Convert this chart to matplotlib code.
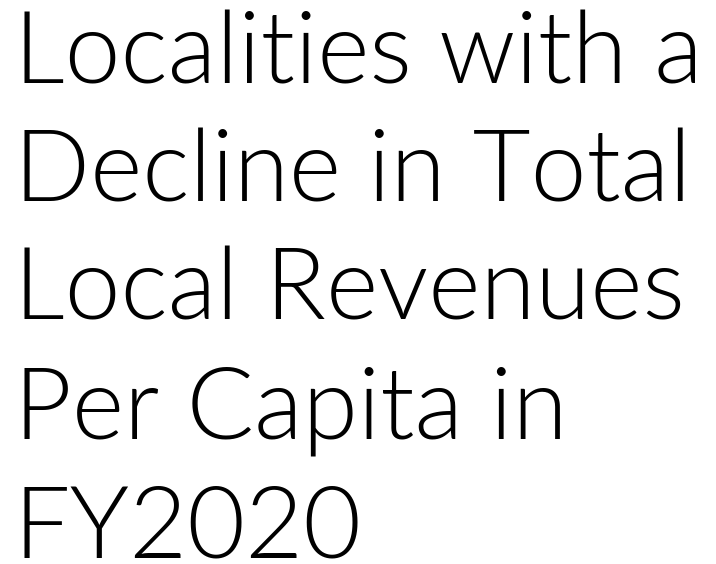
import matplotlib
matplotlib.use("Agg")
import matplotlib.pyplot as plt

lines = ["Localities with a", "Decline in Total", "Local Revenues", "Per Capita in", "FY2020"]
baselines_px = [83, 202, 320, 438, 557]

W, H = 716, 564
fig = plt.figure(figsize=(W / 100, H / 100), dpi=100)
fig.patch.set_facecolor("white")

for txt, yb in zip(lines, baselines_px):
    fig.text(14 / W, 1 - yb / H, txt, fontsize=72, family="Lato", fontweight=300,
             color="black", ha="left", va="baseline")

fig.savefig("out.png", dpi=100, facecolor="white")
